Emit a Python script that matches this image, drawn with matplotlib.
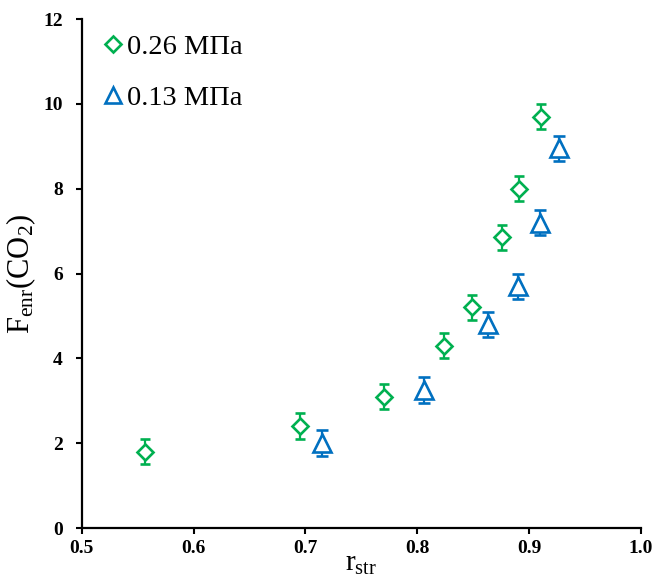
import matplotlib.pyplot as plt
from matplotlib.lines import Line2D

plt.rcParams['font.family'] = ['Liberation Serif', 'DejaVu Serif']
plt.rcParams['mathtext.fontset'] = 'custom'
plt.rcParams['mathtext.rm'] = 'Liberation Serif'
plt.rcParams['mathtext.it'] = 'Liberation Serif:italic'

# values
X_026 = [0.557, 0.695, 0.770, 0.824, 0.849, 0.876, 0.891, 0.911]
Y_026 = [1.8, 2.4, 3.1, 4.3, 5.2, 6.85, 8.0, 9.7]
X_013 = [0.715, 0.806, 0.863, 0.890, 0.910, 0.927]
Y_013 = [2.0, 3.25, 4.8, 5.7, 7.2, 8.95]
ERR = 0.3

LABELS = ['0.26 МПа', '0.13 МПа']
GREEN = '#00B050'
BLUE = '#0070C0'

fig = plt.figure(figsize=(6.59, 5.85), dpi=100)
ax = fig.add_axes([0.124, 0.0974, 0.8487, 0.8701])

ax.errorbar(X_026, Y_026, yerr=ERR, fmt='D', ms=8, mfc='white', mec=GREEN,
            mew=1.9, ecolor=GREEN, elinewidth=1.6, capsize=3.4, capthick=2.0,
            zorder=3)
ax.errorbar(X_013, Y_013, yerr=ERR, fmt='^', ms=13, mfc='white', mec=BLUE,
            mew=1.9, ecolor=BLUE, elinewidth=1.6, capsize=4.0, capthick=2.0,
            zorder=3)

ax.set_xlim(0.5, 1.0)
ax.set_ylim(0, 12)
ax.set_xticks([0.5, 0.6, 0.7, 0.8, 0.9, 1.0])
ax.set_yticks([0, 2, 4, 6, 8, 10, 12])
ax.set_xticklabels(['0.5', '0.6', '0.7', '0.8', '0.9', '1.0'])

for s in ['top', 'right']:
    ax.spines[s].set_visible(False)
for s in ['left', 'bottom']:
    ax.spines[s].set_linewidth(1.6)
ax.tick_params(direction='out', length=4.5, width=1.5, labelsize=14)
ax.tick_params(axis='x', pad=4)
ax.tick_params(axis='y', pad=9)
for lab in ax.get_xticklabels() + ax.get_yticklabels():
    lab.set_fontweight('bold')

ax.set_xlabel(r'r$_{\rm str}$', fontsize=21, labelpad=-4)
ax.set_ylabel(r'F$_{\rm enr}$(CO$_{\rm 2}$)', fontsize=22, labelpad=4)

handles = [
    Line2D([], [], ls='none', marker='D', ms=8, mfc='white', mec=GREEN, mew=1.9),
    Line2D([], [], ls='none', marker='^', ms=12, mfc='white', mec=BLUE, mew=1.9),
]
ax.legend(handles, LABELS, loc='upper left', bbox_to_anchor=(0.0, 1.012),
          frameon=False, fontsize=20.5, handlelength=0.7, handletextpad=0.15,
          labelspacing=0.9, borderaxespad=0.34, borderpad=0.4)

fig.savefig('out.png', dpi=100)
